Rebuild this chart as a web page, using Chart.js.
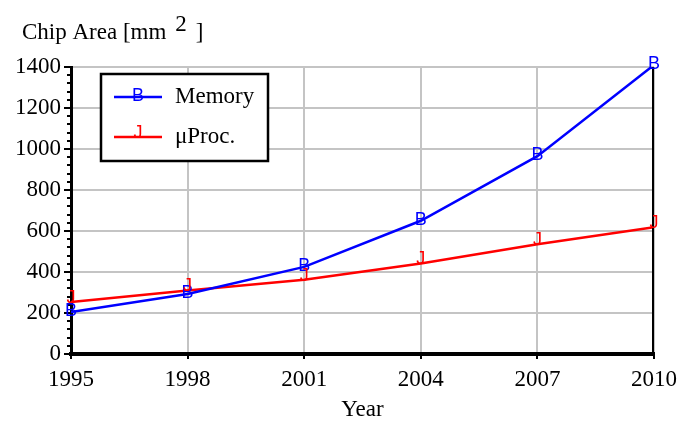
<!DOCTYPE html>
<html>
<head>
<meta charset="utf-8">
<script src="https://cdn.jsdelivr.net/npm/chart.js@4"></script>
<style>
  html, body { margin: 0; padding: 0; background: #fff; }
  #wrap { width: 681px; height: 421px; }
</style>
</head>
<body>
<div id="wrap"><canvas id="myChart" width="681" height="421"></canvas></div>
<script>
// Chart data
const years = [1995, 1998, 2001, 2004, 2007, 2010];
const memoryArea = [205, 293, 425, 650, 965, 1410];
const procArea = [254, 310, 362, 442, 535, 618];
const seriesNames = ['Memory', 'μProc.'];
const seriesMarks = ['B', 'J'];
const seriesColors = ['#0000ff', '#ff0000'];
const markShift = [1, 4]; // letters sit a bit above the point

const serif = '"Liberation Serif", "DejaVu Serif", serif';
const sans = '"Liberation Sans", Arial, sans-serif';

function toPoints(values) {
    return years.map((yr, i) => ({ x: yr, y: values[i] }));
}

// Draw letters as point markers, plus frame, minor ticks, title and legend box
const decorations = {
    id: 'decorations',
    afterDatasetsDraw(chart) {
        const ctx = chart.ctx;
        const area = chart.chartArea;
        const yScale = chart.scales.y;
        ctx.save();

        // right frame line
        ctx.strokeStyle = '#000';
        ctx.lineWidth = 2;
        ctx.beginPath();
        ctx.moveTo(area.right - 1, area.top);
        ctx.lineTo(area.right - 1, area.bottom);
        ctx.stroke();

        // minor ticks on the left axis
        ctx.lineWidth = 2;
        for (let v = 40; v < 1400; v += 40) {
            if (v % 200 === 0) continue;
            const py = Math.round(yScale.getPixelForValue(v));
            ctx.beginPath();
            ctx.moveTo(area.left - 4, py);
            ctx.lineTo(area.left - 1, py);
            ctx.stroke();
        }

        // letter markers
        ctx.font = '18px ' + sans;
        ctx.textAlign = 'center';
        ctx.textBaseline = 'middle';
        chart.data.datasets.forEach((ds, i) => {
            const meta = chart.getDatasetMeta(i);
            ctx.fillStyle = seriesColors[i];
            meta.data.forEach(pt => {
                ctx.fillText(seriesMarks[i], pt.x, pt.y - markShift[i]);
            });
        });

        // legend box
        const bx = 101, by = 74, bw = 167, bh = 87;
        ctx.fillStyle = '#fff';
        ctx.fillRect(bx, by, bw, bh);
        ctx.strokeStyle = '#000';
        ctx.lineWidth = 2.5;
        ctx.strokeRect(bx, by, bw, bh);
        seriesNames.forEach((name, i) => {
            const ly = 97 + i * 40;
            ctx.strokeStyle = seriesColors[i];
            ctx.lineWidth = 2.5;
            ctx.beginPath();
            ctx.moveTo(114, ly);
            ctx.lineTo(162, ly);
            ctx.stroke();
            ctx.fillStyle = seriesColors[i];
            ctx.font = '18px ' + sans;
            ctx.textAlign = 'center';
            ctx.textBaseline = 'middle';
            ctx.fillText(seriesMarks[i], 138, ly - markShift[i]);
            ctx.fillStyle = '#000';
            ctx.font = '23px ' + serif;
            ctx.textAlign = 'left';
            ctx.fillText(name, 175, ly);
        });

        // axis title on top
        ctx.fillStyle = '#000';
        ctx.textAlign = 'left';
        ctx.textBaseline = 'alphabetic';
        ctx.font = '23px ' + serif;
        ctx.fillText('Chip Area [mm', 22, 39);
        const w = ctx.measureText('Chip Area [mm').width;
        ctx.fillText('2', 22 + w + 9, 31);
        const w2 = ctx.measureText('2').width;
        ctx.fillText(']', 22 + w + 9 + w2 + 9, 39);

        ctx.restore();
    }
};

const ctx = document.getElementById('myChart').getContext('2d');
new Chart(ctx, {
    type: 'line',
    data: {
        datasets: [
            {
                label: seriesNames[0],
                data: toPoints(memoryArea),
                borderColor: seriesColors[0],
                borderWidth: 2.5,
                pointRadius: 0,
                fill: false,
                tension: 0
            },
            {
                label: seriesNames[1],
                data: toPoints(procArea),
                borderColor: seriesColors[1],
                borderWidth: 2.5,
                pointRadius: 0,
                fill: false,
                tension: 0
            }
        ]
    },
    options: {
        responsive: false,
        animation: false,
        layout: { padding: { top: 67, right: 27, left: 0, bottom: 0 } },
        plugins: {
            legend: { display: false },
            tooltip: { enabled: false }
        },
        scales: {
            x: {
                type: 'linear',
                min: 1995,
                max: 2010,
                afterFit: s => {
                    s.height = 67;
                    s.paddingLeft = 0;
                    s.paddingRight = 0;
                },
                ticks: {
                    stepSize: 3,
                    color: '#000',
                    font: { family: serif, size: 23 },
                    padding: 7,
                    maxRotation: 0,
                    callback: v => String(v)
                },
                grid: {
                    color: '#c4c4c4',
                    lineWidth: 2,
                    tickLength: 5,
                    tickColor: '#000',
                    tickWidth: 2
                },
                border: { color: '#000', width: 4 },
                title: {
                    display: true,
                    text: 'Year',
                    color: '#000',
                    font: { family: serif, size: 23, lineHeight: 1 },
                    padding: { top: 0, bottom: 0 }
                }
            },
            y: {
                min: 0,
                max: 1400,
                afterFit: s => { s.width = 71; },
                ticks: {
                    stepSize: 200,
                    color: '#000',
                    font: { family: serif, size: 23 },
                    padding: 3,
                    callback: v => String(v)
                },
                grid: {
                    color: '#c4c4c4',
                    lineWidth: 2,
                    tickLength: 7,
                    tickColor: '#000',
                    tickWidth: 2
                },
                border: { color: '#000', width: 3 }
            }
        }
    },
    plugins: [decorations]
});
</script>
</body>
</html>
